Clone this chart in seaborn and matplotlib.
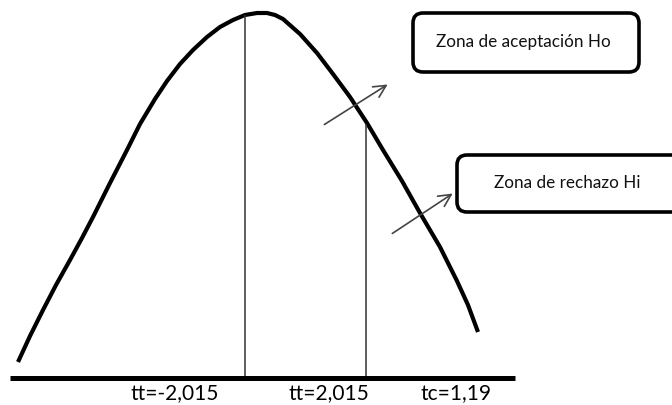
import matplotlib
matplotlib.use("Agg")
import matplotlib.pyplot as plt
import seaborn as sns
import pandas as pd
from matplotlib.patches import FancyBboxPatch

sns.set_theme(style="white")
plt.rcParams['font.family'] = ['Lato', 'DejaVu Sans']

# curve (pixel coords, y grows downward)
curve_x = [18, 30, 43, 56, 70, 82, 93, 110, 127, 140, 155, 167, 180, 193, 207, 220, 233, 245,
           257, 267, 275, 283, 300, 317, 333, 350, 367, 383, 402, 420, 440, 457, 468, 478]
curve_y = [362, 336, 310, 285, 260, 238, 217, 183, 150, 124, 99, 81, 64, 50, 37, 27, 20, 15,
           13, 13, 15, 19, 34, 53, 74, 97, 123, 150, 181, 213, 247, 281, 305, 332]

vline_x = [245, 366]
vline_top = [15, 124]
base_y = 378
base_x = [10, 515]

tick_labels = ["tt=-2,015", "tt=2,015", "tc=1,19"]
tick_x = [175, 329, 456]

box_texts = ["Zona de aceptación Ho", "Zona de rechazo Hi"]
box_left = [413, 457]
box_top = [13, 155]
box_w = [226, 225]
box_h = [59, 57]
box_text_x = [523, 567]

arrow_start = [(322, 126), (390, 235)]
arrow_end = [(390, 83), (455, 192)]

df = pd.DataFrame({"x": curve_x, "y": curve_y})

fig = plt.figure(figsize=(6.72, 4.05), dpi=100)
ax = fig.add_axes([0, 0, 1, 1])

sns.lineplot(data=df, x="x", y="y", sort=False, color="black", lw=3.0,
             solid_joinstyle="round", solid_capstyle="butt", ax=ax)
ax.vlines(vline_x, vline_top, base_y, color="#333333", lw=1.1)
ax.hlines(base_y, base_x[0], base_x[1], color="black", lw=3.6)

for lbl, tx in zip(tick_labels, tick_x):
    ax.text(tx, 393, lbl, ha="center", va="center", fontsize=15, color="black")

for txt, l, t, w, h, tx in zip(box_texts, box_left, box_top, box_w, box_h, box_text_x):
    ax.add_patch(FancyBboxPatch((l, t), w, h, boxstyle="round,pad=0,rounding_size=10",
                                fc="white", ec="black", lw=2.6, zorder=3))
    ax.text(tx, t + h / 2, txt, ha="center", va="center", fontsize=12.3,
            color="#111111", zorder=4)

for s, e in zip(arrow_start, arrow_end):
    ax.annotate("", xy=e, xytext=s,
                arrowprops=dict(arrowstyle="->", color="#444444", lw=1.2, mutation_scale=22))

ax.set_xlim(0, 672)
ax.set_ylim(405, 0)
ax.axis("off")
ax.set_xlabel("")
ax.set_ylabel("")

fig.savefig("out.png", dpi=100, facecolor="white")
